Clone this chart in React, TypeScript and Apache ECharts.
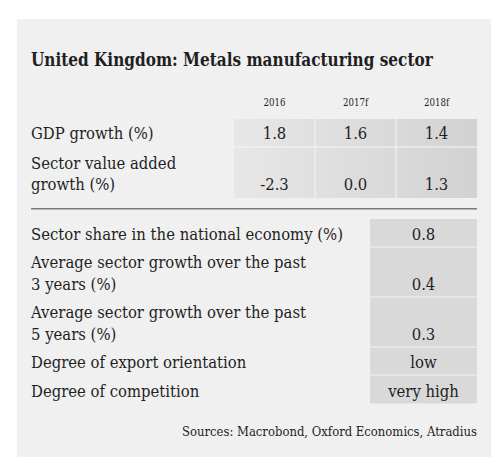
import React, { useEffect, useRef } from "react";
import * as echarts from "echarts";

// ---- data ----
const title = "United Kingdom: Metals manufacturing sector";
const years = ["2016", "2017f", "2018f"];
const gdpGrowthLabel = ["GDP growth (%)"];
const gdpGrowth = [1.8, 1.6, 1.4];
const sectorValueAddedLabel = ["Sector value added", "growth (%)"];
const sectorValueAdded = [-2.3, 0.0, 1.3];
const indicatorLabels = [
  ["Sector share in the national economy (%)"],
  ["Average sector growth over the past", "3 years (%)"],
  ["Average sector growth over the past", "5 years (%)"],
  ["Degree of export orientation"],
  ["Degree of competition"],
];
const indicatorValues = ["0.8", "0.4", "0.3", "low", "very high"];
const sources = "Sources: Macrobond, Oxford Economics, Atradius";

const FAMILY = "'DejaVu Serif', serif";
const INK = "#1f1f1f";

function measure(text: string, font: string): number {
  const c = document.createElement("canvas").getContext("2d");
  if (!c) return 1;
  c.font = font;
  return c.measureText(text).width || 1;
}

export default function App() {
  const ref = useRef<HTMLDivElement>(null);

  useEffect(() => {
    document.body.style.margin = "0";
    if (!ref.current) return;
    const chart = echarts.init(ref.current, undefined, { renderer: "svg" });

    const bodySize = 16.5;
    const titleSize = 18.5;
    const yearSize = 11.5;
    const srcSize = 13.2;
    const sBody = 312 / measure(indicatorLabels[0][0], `${bodySize}px ${FAMILY}`);
    const sTitle = 402 / measure(title, `bold ${titleSize}px ${FAMILY}`);
    const sYear = 22 / measure("2016", `${yearSize}px ${FAMILY}`);
    const sSrc = 295 / measure(sources, `${srcSize}px ${FAMILY}`);

    const txt = (
      text: string,
      x: number,
      baseline: number,
      size: number,
      scale: number,
      align: string,
      weight: string = "normal"
    ) => ({
      type: "text",
      x,
      y: baseline - size * 0.34,
      scaleX: scale,
      style: {
        text,
        fontSize: size,
        fontFamily: FAMILY,
        fontWeight: weight,
        fill: INK,
        textAlign: align,
        align,
        textVerticalAlign: "middle",
        verticalAlign: "middle",
      },
    });

    const els: any[] = [];
    // panel
    els.push({ type: "rect", shape: { x: 17, y: 19, width: 474, height: 438 }, style: { fill: "#f0f0f0" } });
    // title
    els.push(txt(title, 31, 65.5, titleSize, sTitle, "left", "bold"));

    // top table
    const colLeft = 234;
    const colW = 81;
    const tableRight = colLeft + colW * years.length;
    years.forEach((yr, i) => {
      els.push(txt(yr, colLeft + colW * i + colW / 2, 106, yearSize, sYear, "center"));
    });
    const topRows = [
      { label: gdpGrowthLabel, values: gdpGrowth, top: 119, bottom: 147 },
      { label: sectorValueAddedLabel, values: sectorValueAdded, top: 147, bottom: 198 },
    ];
    const grad = new echarts.graphic.LinearGradient(0, 0, 1, 0, [
      { offset: 0, color: "#e7e7e7" },
      { offset: 1, color: "#d2d2d2" },
    ]);
    topRows.forEach((r) => {
      els.push({
        type: "rect",
        shape: { x: colLeft, y: r.top, width: tableRight - colLeft, height: r.bottom - r.top },
        style: { fill: grad },
      });
    });
    // cell separators
    for (let i = 1; i < years.length; i++) {
      els.push({
        type: "rect",
        shape: { x: colLeft + colW * i - 0.5, y: 119, width: 1, height: 198 - 119 },
        style: { fill: "#f6f6f6" },
      });
    }
    els.push({ type: "rect", shape: { x: colLeft, y: 146.6, width: tableRight - colLeft, height: 1 }, style: { fill: "#f6f6f6" } });

    const lineH = 21.7;
    topRows.forEach((r) => {
      const base = r.bottom - 7.8;
      r.label.forEach((l, k) => {
        els.push(txt(l, 31, base - (r.label.length - 1 - k) * lineH, bodySize, sBody, "left"));
      });
      r.values.forEach((v, i) => {
        els.push(txt(v.toFixed(1), colLeft + colW * i + colW / 2, base, bodySize, sBody, "center"));
      });
    });

    // separator line
    els.push({ type: "rect", shape: { x: 31, y: 208, width: 446, height: 1.6 }, style: { fill: "#7a7a7a" } });

    // bottom table
    const rowBounds = [219, 247, 297, 347, 375, 404];
    const valLeft = 370;
    const valRight = 477;
    indicatorLabels.forEach((lab, i) => {
      const top = rowBounds[i];
      const bottom = rowBounds[i + 1];
      els.push({
        type: "rect",
        shape: { x: valLeft, y: top + (i === 0 ? 0 : 0.6), width: valRight - valLeft, height: bottom - top - (i === 0 ? 0.6 : 1.2) },
        style: { fill: "#d9d9d9" },
      });
      const base = bottom - 7.5;
      lab.forEach((l, k) => {
        els.push(txt(l, 31, base - (lab.length - 1 - k) * lineH, bodySize, sBody, "left"));
      });
      els.push(txt(indicatorValues[i], (valLeft + valRight) / 2, base, bodySize, sBody, "center"));
    });

    // sources
    els.push(txt(sources, 477, 435.7, srcSize, sSrc, "right"));

    chart.setOption({
      animation: false,
      graphic: { elements: els },
    });
    return () => chart.dispose();
  }, []);

  return <div ref={ref} style={{ width: 499, height: 475 }} />;
}
